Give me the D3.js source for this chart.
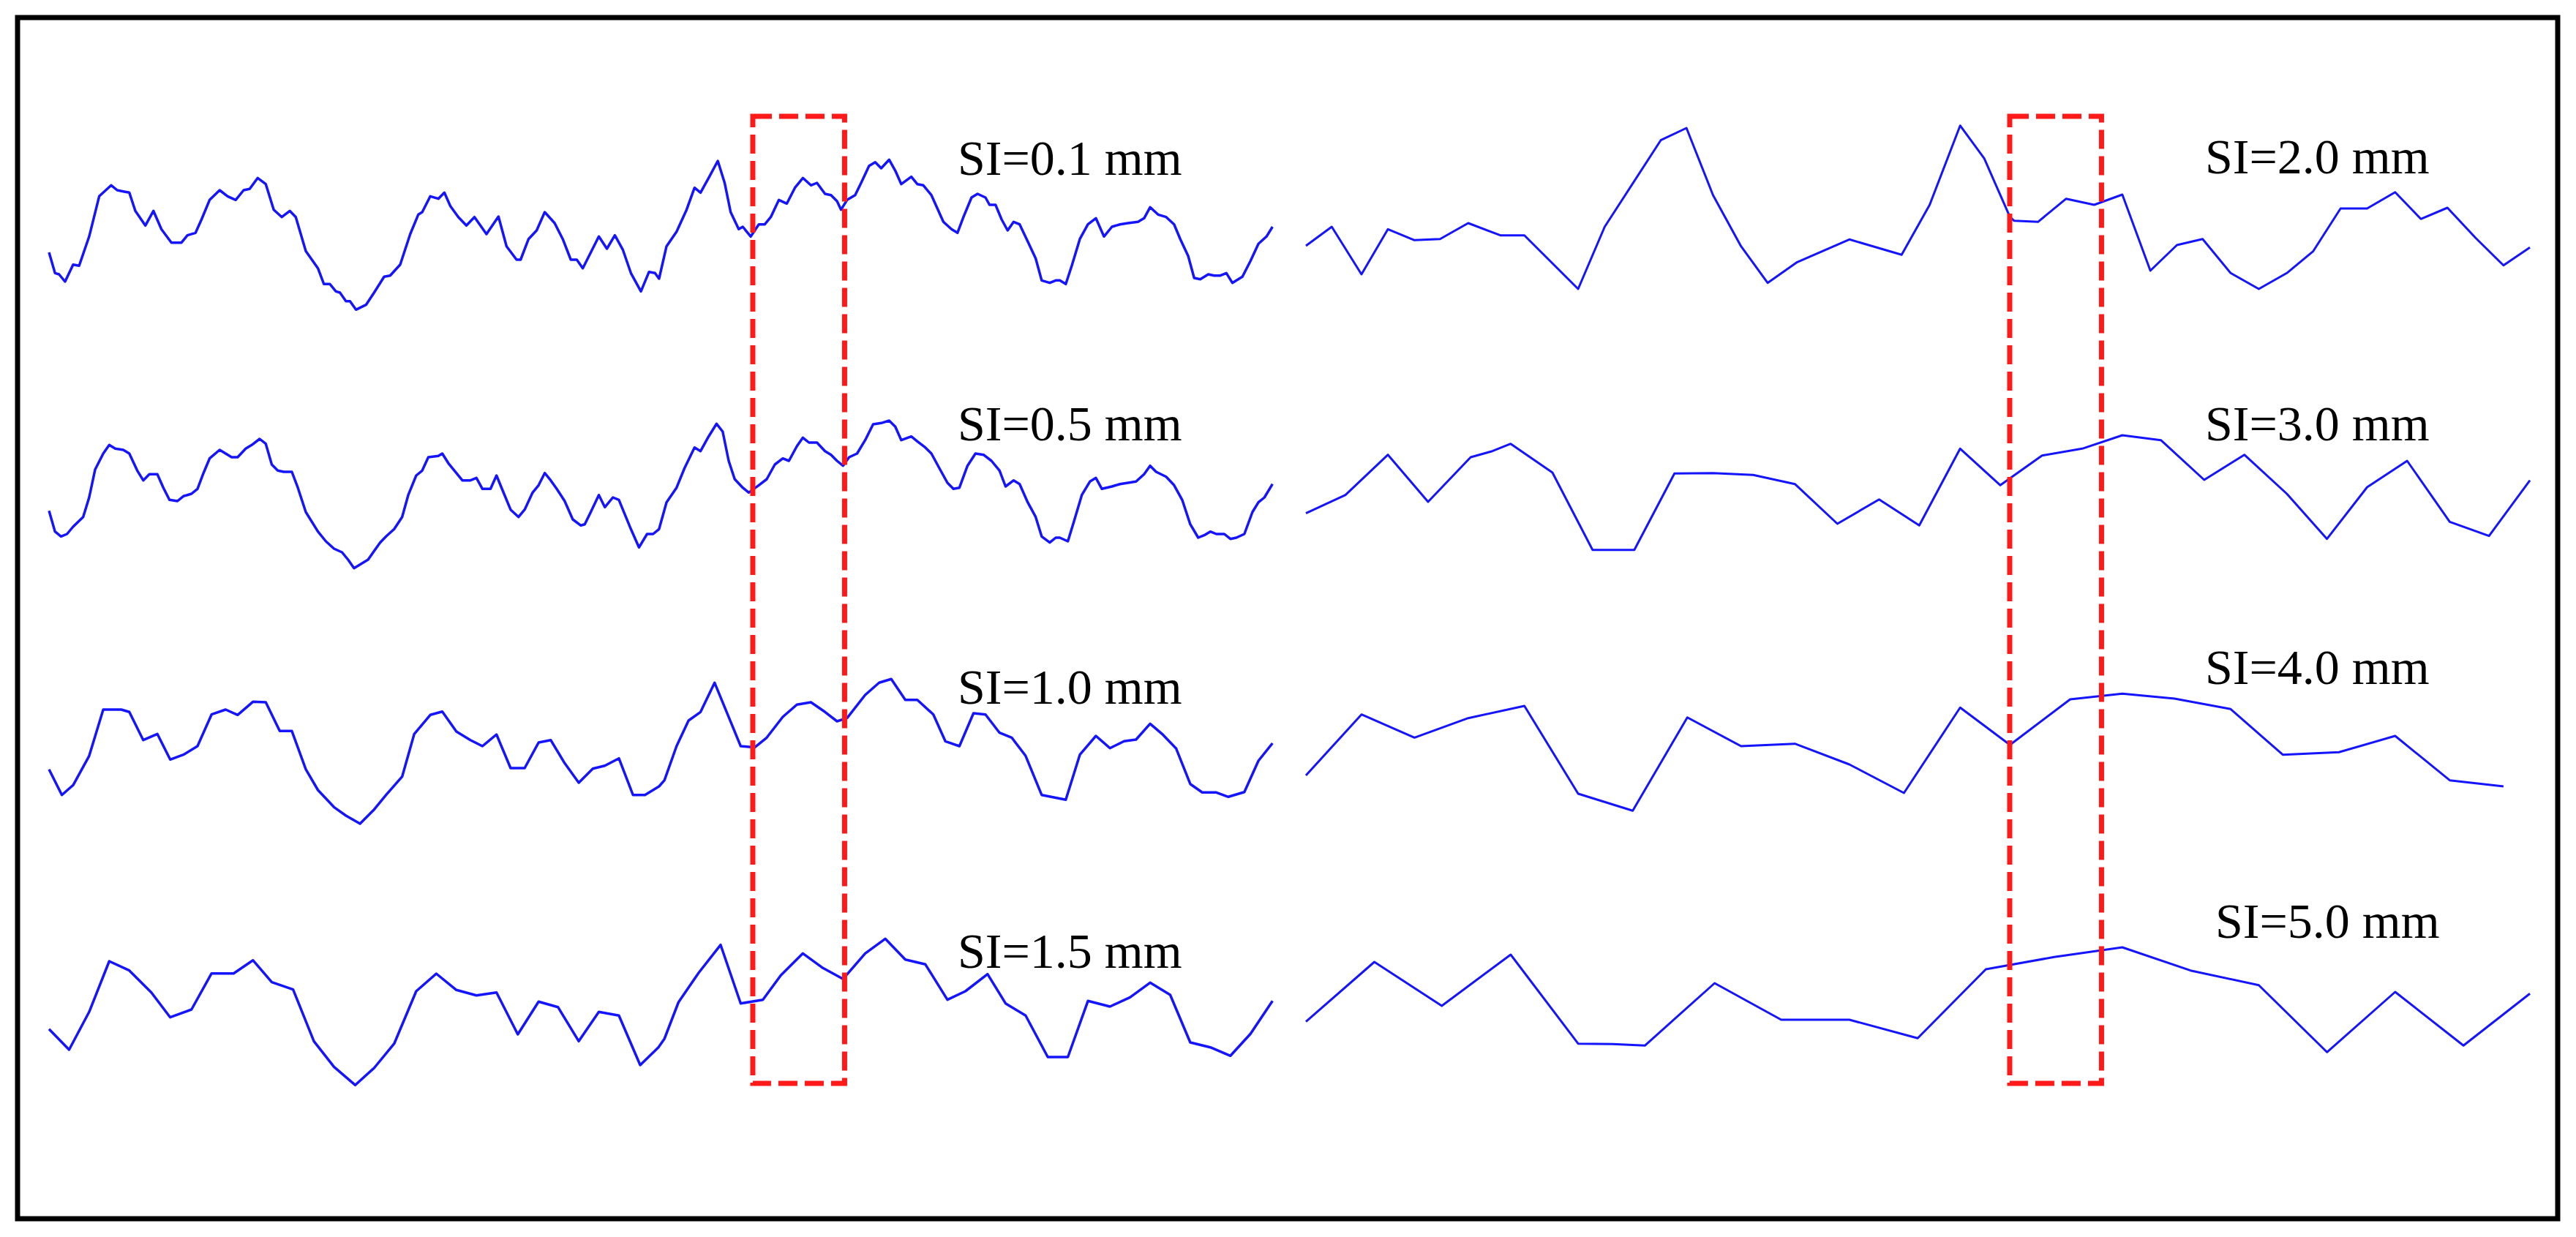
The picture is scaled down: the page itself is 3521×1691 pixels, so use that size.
<!DOCTYPE html>
<html><head><meta charset="utf-8">
<script src="https://cdn.jsdelivr.net/npm/d3@7"></script>
<style>html,body{margin:0;padding:0;background:#fff;overflow:hidden}</style>
</head><body>
<svg id="chart" width="3521" height="1691"></svg>
<script>
// ---- Data: profile position (0-100, % of sampled length) vs. height (arbitrary units) ----
const labelsLeft  = ["SI=0.1 mm", "SI=0.5 mm", "SI=1.0 mm", "SI=1.5 mm"];
const labelsRight = ["SI=2.0 mm", "SI=3.0 mm", "SI=4.0 mm", "SI=5.0 mm"];
const windowRange = [57.5, 65.0]; // highlighted window along the profile

const si01 = [[0,8.5],[0.49,5.67],[0.82,5.5],[1.31,4.5],[1.97,6.83],[2.46,6.67],[3.28,10.67],[4.10,16.17],[5.08,17.67],[5.57,17.0],[6.07,16.83],[6.56,16.67],[7.05,14.17],[7.87,12.17],[8.53,14.17],[9.18,11.67],[10.0,9.83],[10.82,9.83],[11.31,10.83],[11.97,11.17],[12.46,13.0],[13.12,15.67],[13.94,17.0],[14.59,16.17],[15.25,15.67],[15.90,17.0],[16.39,17.17],[17.05,18.67],[17.71,17.83],[18.36,14.33],[19.02,13.33],[19.67,14.17],[20.16,13.33],[20.98,8.67],[21.97,6.33],[22.46,4.17],[22.95,4.17],[23.44,3.17],[23.77,3.0],[24.26,1.83],[24.59,1.83],[25.08,0.67],[25.90,1.33],[26.56,3.0],[27.38,5.17],[27.87,5.33],[28.69,6.83],[29.51,11.0],[30.17,13.67],[30.49,14.0],[31.15,16.17],[31.81,15.83],[32.30,16.67],[32.79,14.83],[33.44,13.33],[34.10,12.17],[34.76,13.33],[35.74,11.0],[36.72,13.4],[37.38,9.33],[38.20,7.5],[38.53,7.5],[39.18,10.33],[39.84,11.5],[40.50,14.0],[41.31,12.5],[41.97,10.33],[42.63,7.5],[43.12,7.5],[43.61,6.33],[44.92,10.67],[45.58,9.0],[46.23,10.83],[46.89,8.83],[47.54,5.67],[48.36,3.17],[49.02,5.83],[49.51,5.67],[49.84,4.9],[50.45,9.33],[51.27,11.33],[52.09,14.33],[52.74,17.33],[53.23,16.67],[53.89,18.67],[54.64,21.0],[55.20,18.0],[55.69,14.0],[56.35,11.67],[56.68,12.0],[57.33,10.67],[57.99,12.33],[58.48,12.33],[58.97,13.33],[59.63,15.67],[60.28,15.17],[60.94,17.33],[61.59,18.67],[62.25,17.67],[62.74,18.0],[63.40,16.5],[63.89,16.33],[64.38,15.5],[64.71,14.33],[65.20,15.67],[65.86,16.33],[66.35,18.0],[67.00,20.33],[67.50,20.83],[67.99,20.0],[68.64,21.17],[69.14,19.67],[69.63,17.83],[70.45,18.83],[70.94,17.83],[71.43,17.67],[72.09,16.33],[73.07,12.67],[73.73,11.67],[74.22,11.17],[74.71,13.33],[75.37,16.0],[75.86,16.5],[76.51,16.0],[76.84,15.0],[77.33,15.0],[77.83,13.0],[78.32,11.5],[78.81,12.67],[79.30,12.33],[79.96,10.0],[80.61,7.67],[81.10,4.67],[81.76,4.33],[82.25,4.67],[82.58,4.67],[83.07,4.17],[83.56,6.67],[84.22,10.33],[84.88,12.33],[85.53,13.17],[86.19,10.67],[86.84,12.0],[87.50,12.33],[88.15,12.5],[88.97,12.67],[89.47,13.17],[89.96,14.67],[90.61,13.67],[91.27,13.33],[91.92,12.33],[92.42,10.33],[93.07,8.0],[93.56,5.0],[94.06,4.83],[94.71,5.5],[95.20,5.33],[95.70,5.33],[96.19,5.67],[96.68,4.33],[97.50,5.17],[98.16,7.33],[98.81,9.67],[99.47,10.67],[99.96,12.0]];

const si05 = [[0,9.17],[0.49,6.33],[0.98,5.67],[1.47,6.0],[1.97,7.0],[2.79,8.33],[3.28,11.0],[3.77,14.83],[4.43,17.0],[4.92,18.17],[5.41,17.67],[6.07,17.5],[6.56,17.0],[7.21,14.67],[7.70,13.33],[8.20,14.17],[8.85,14.17],[9.34,12.33],[9.84,10.67],[10.49,10.5],[10.98,11.17],[11.64,11.5],[12.13,12.17],[12.62,14.33],[13.12,16.33],[13.94,17.5],[14.43,17.0],[14.92,16.5],[15.41,16.5],[16.07,17.67],[16.56,18.17],[17.21,19.0],[17.71,18.33],[18.20,15.5],[18.69,14.67],[19.18,14.5],[19.84,14.5],[20.33,12.33],[20.98,9.0],[21.97,6.33],[22.62,5.0],[23.28,4.0],[23.94,3.5],[24.43,2.5],[24.92,1.33],[25.58,2.0],[26.07,2.5],[26.56,3.67],[27.05,4.83],[27.54,5.67],[28.20,6.67],[28.85,8.33],[29.35,11.33],[30.00,14.0],[30.49,14.67],[30.99,16.5],[31.81,16.67],[32.13,17.0],[32.63,15.67],[33.12,14.67],[33.77,13.33],[34.43,13.33],[34.92,13.67],[35.41,12.17],[36.07,12.17],[36.56,14.0],[37.05,12.0],[37.71,9.33],[38.36,8.33],[38.86,9.33],[39.51,11.67],[40.00,12.67],[40.50,14.33],[40.99,13.33],[41.48,12.17],[42.13,10.5],[42.79,8.0],[43.45,7.17],[43.77,7.33],[44.26,9.0],[44.92,11.33],[45.41,9.67],[46.07,11.0],[46.56,10.67],[47.05,8.67],[47.54,6.67],[48.20,4.17],[48.86,6.0],[49.35,6.0],[49.84,6.67],[50.45,10.33],[51.27,12.33],[51.92,15.0],[52.74,17.83],[53.23,17.33],[53.89,19.33],[54.54,21.07],[55.04,20.0],[55.53,16.0],[56.02,13.5],[56.68,12.33],[57.17,11.67],[57.99,12.67],[58.64,13.5],[59.30,15.5],[59.95,16.33],[60.45,16.0],[61.10,18.0],[61.59,19.17],[62.09,18.5],[62.74,18.5],[63.40,17.33],[63.89,16.83],[64.38,16.0],[64.87,15.33],[65.37,16.5],[66.02,17.0],[66.68,18.83],[67.33,21.0],[67.99,21.17],[68.64,21.5],[69.14,20.67],[69.63,18.83],[70.45,19.33],[70.94,18.67],[71.59,17.83],[72.09,17.0],[72.74,15.0],[73.40,13.0],[73.89,12.17],[74.38,12.33],[75.04,15.33],[75.69,17.0],[76.35,16.83],[77.00,16.0],[77.66,14.67],[78.15,12.5],[78.81,13.33],[79.30,12.83],[79.96,10.33],[80.61,8.33],[81.10,5.67],[81.76,4.83],[82.25,5.5],[82.58,5.5],[83.24,5.0],[83.73,7.67],[84.38,11.33],[85.04,13.17],[85.53,13.67],[86.02,12.17],[86.84,12.5],[87.50,12.83],[88.15,13.0],[88.81,13.17],[89.47,14.17],[89.96,15.33],[90.45,14.5],[91.27,13.83],[91.92,12.67],[92.58,10.67],[93.24,7.33],[93.89,5.5],[94.38,5.83],[94.88,6.33],[95.37,6.0],[96.02,6.0],[96.52,5.33],[97.01,5.5],[97.66,6.0],[98.32,9.0],[98.81,10.33],[99.30,11.0],[99.96,12.83]];

const si10 = [[0,8.33],[1.05,4.83],[1.97,6.17],[3.28,10.17],[4.43,16.5],[5.90,16.5],[6.56,16.17],[7.70,12.33],[8.85,13.17],[9.90,9.67],[10.98,10.33],[12.13,11.5],[13.28,15.83],[14.43,16.5],[15.41,15.77],[16.66,17.57],[17.71,17.5],[18.85,13.57],[19.84,13.57],[20.98,8.33],[21.97,5.5],[23.28,3.17],[24.26,2.0],[25.41,0.9],[26.56,2.83],[27.54,4.83],[28.85,7.33],[29.84,13.17],[31.15,15.77],[32.13,16.23],[33.28,13.5],[34.43,12.33],[35.41,11.5],[36.56,13.1],[37.71,8.5],[38.86,8.5],[40.00,12.0],[40.99,12.33],[42.13,9.17],[43.28,6.5],[44.43,8.43],[45.41,8.83],[46.56,9.83],[47.71,4.83],[48.69,4.83],[49.84,6.0],[50.28,6.83],[51.27,11.5],[52.25,15.0],[53.23,16.17],[54.38,20.17],[55.69,14.83],[56.51,11.5],[57.66,11.33],[58.64,12.67],[59.95,15.5],[61.10,17.17],[62.25,17.5],[63.40,16.17],[64.38,14.9],[65.20,15.33],[66.68,18.5],[67.82,20.17],[68.81,20.67],[69.96,17.83],[70.94,17.83],[72.25,15.83],[73.23,12.17],[74.38,11.5],[75.53,16.0],[76.51,15.83],[77.66,13.33],[78.65,12.67],[79.79,10.17],[81.10,4.83],[82.09,4.5],[83.07,4.17],[84.22,10.33],[85.53,12.9],[86.68,11.23],[87.83,12.17],[88.81,12.4],[89.96,14.57],[90.94,13.17],[92.09,11.17],[93.24,6.33],[94.22,5.17],[95.37,5.17],[96.35,4.57],[97.66,5.23],[98.81,9.5],[99.96,11.9]];

const si15 = [[0,8.33],[1.64,5.5],[3.28,10.67],[4.92,17.6],[6.56,16.33],[8.36,13.33],[9.90,9.93],[11.64,11.0],[13.28,15.93],[15.08,15.93],[16.66,17.73],[18.20,14.73],[19.94,13.73],[21.64,6.67],[23.28,3.17],[25.02,0.67],[26.56,3.0],[28.20,6.33],[30.00,13.5],[31.64,15.9],[33.28,13.67],[34.92,12.93],[36.56,13.33],[38.30,7.6],[40.00,12.07],[41.58,11.33],[43.28,6.67],[44.92,10.67],[46.56,10.17],[48.30,3.4],[49.79,5.83],[50.28,7.0],[51.43,12.0],[53.07,16.0],[54.87,19.83],[56.51,11.83],[58.32,12.33],[59.79,15.67],[61.59,18.67],[63.23,16.67],[64.87,15.17],[66.68,18.67],[68.32,20.67],[69.96,17.83],[71.60,17.17],[73.40,12.33],[74.87,13.5],[76.68,15.83],[78.15,11.83],[79.79,10.17],[81.60,4.5],[83.24,4.5],[84.88,12.17],[86.68,11.4],[88.32,12.67],[89.96,14.67],[91.60,13.0],[93.24,6.5],[94.88,5.83],[96.52,4.67],[98.16,7.67],[99.96,12.17]];

const si20 = [[0,6.4],[2.11,9.0],[4.54,2.5],[6.70,8.67],[8.87,7.17],[10.96,7.33],[13.26,9.5],[15.88,7.83],[17.85,7.83],[22.24,0.5],[24.41,9.0],[28.99,20.83],[31.09,22.5],[33.26,13.33],[35.55,6.33],[37.72,1.33],[40.14,4.17],[44.40,7.27],[48.67,5.17],[50.96,12.0],[53.45,22.83],[55.42,18.33],[57.52,10.33],[57.85,9.83],[59.81,9.67],[62.11,12.83],[64.40,12.0],[66.70,13.4],[68.99,3.0],[71.16,6.5],[73.26,7.33],[75.55,2.67],[77.85,0.5],[80.14,2.67],[82.30,5.67],[84.53,11.5],[86.70,11.5],[88.99,13.73],[91.09,10.07],[93.26,11.6],[95.55,7.5],[97.84,3.73],[100.0,6.17]];

const si30 = [[0,5.83],[3.23,8.33],[6.70,13.83],[9.98,7.4],[13.46,13.5],[15.23,14.33],[16.73,15.33],[20.14,11.4],[23.42,0.83],[26.83,0.83],[30.11,11.27],[33.26,11.33],[36.54,11.07],[39.95,9.83],[43.42,4.4],[46.83,7.73],[50.11,4.17],[53.45,14.67],[56.73,9.67],[60.14,13.73],[63.42,14.67],[66.70,16.5],[69.85,15.83],[73.39,10.4],[76.67,13.83],[80.14,8.5],[83.42,2.33],[86.70,9.4],[89.97,13.0],[93.45,4.67],[96.66,2.73],[100.0,10.33]];

const si40 = [[0,5.5],[4.54,13.83],[8.87,10.67],[13.26,13.33],[17.85,15.0],[22.24,3.0],[26.70,0.67],[31.16,13.43],[35.55,9.5],[39.95,9.83],[44.40,7.0],[48.86,3.1],[53.45,14.77],[57.52,9.67],[62.44,15.9],[66.70,16.67],[70.96,16.0],[75.55,14.57],[79.81,8.33],[84.40,8.67],[88.99,10.9],[93.45,4.83],[97.84,4.0]];

const si50 = [[0,4.83],[5.59,13.0],[11.10,7.0],[16.73,14.0],[22.24,1.83],[25.06,1.77],[27.69,1.57],[33.39,10.1],[38.83,5.1],[44.40,5.1],[49.98,2.57],[55.55,12.0],[61.13,13.67],[66.70,15.0],[72.27,11.83],[77.85,9.83],[83.42,0.67],[88.99,8.9],[94.57,1.57],[100.0,8.67]];

const leftProfiles  = [si01, si05, si10, si15];
const rightProfiles = [si20, si30, si40, si50];

// ---- Layout ----
const W = 3521, H = 1691;
const svg = d3.select("#chart");
svg.append("rect").attr("x",0).attr("y",0).attr("width",W).attr("height",H).attr("fill","#fff");

const xLeft  = d3.scaleLinear().domain([0,100]).range([67,1740]);
const xRight = d3.scaleLinear().domain([0,100]).range([1785,3458]);
const leftBase  = [430, 790, 1135, 1490];
const rightBase = [400, 760, 1115, 1445];
const pxPerUnit = 10;

function drawPanel(profiles, baseYs, xs, labels, labelX, labelY, width) {
  profiles.forEach((data, i) => {
    const y = d3.scaleLinear().domain([0,25]).range([baseYs[i], baseYs[i]-25*pxPerUnit]);
    const line = d3.line().x(d => xs(d[0])).y(d => y(d[1]));
    svg.append("path").datum(data)
      .attr("d", line).attr("fill","none")
      .attr("stroke","#1414ff").attr("stroke-width",width)
      .attr("stroke-linejoin","round");
    svg.append("text").attr("x", labelX[i]).attr("y", labelY[i])
      .attr("font-family","'Liberation Serif','Times New Roman',serif")
      .attr("font-size",68).attr("fill","#000").text(labels[i]);
  });
}
drawPanel(leftProfiles, leftBase, xLeft, labelsLeft, [1309,1309,1309,1309], [239,602,962,1323], 3.5);
drawPanel(rightProfiles, rightBase, xRight, labelsRight, [3014,3014,3014,3028], [237,602,935,1282], 3);

// ---- Red dashed windows ----
[xLeft, xRight].forEach(xs => {
  svg.append("rect")
    .attr("x", xs(windowRange[0])).attr("y", 159)
    .attr("width", xs(windowRange[1]) - xs(windowRange[0])).attr("height", 1322)
    .attr("fill","none").attr("stroke","#ff1a1a").attr("stroke-width",7)
    .attr("stroke-dasharray","26,10");
});

// ---- Outer frame ----
svg.append("rect").attr("x",24).attr("y",24).attr("width",3472).attr("height",1642)
  .attr("fill","none").attr("stroke","#000").attr("stroke-width",7);
</script>
</body></html>
